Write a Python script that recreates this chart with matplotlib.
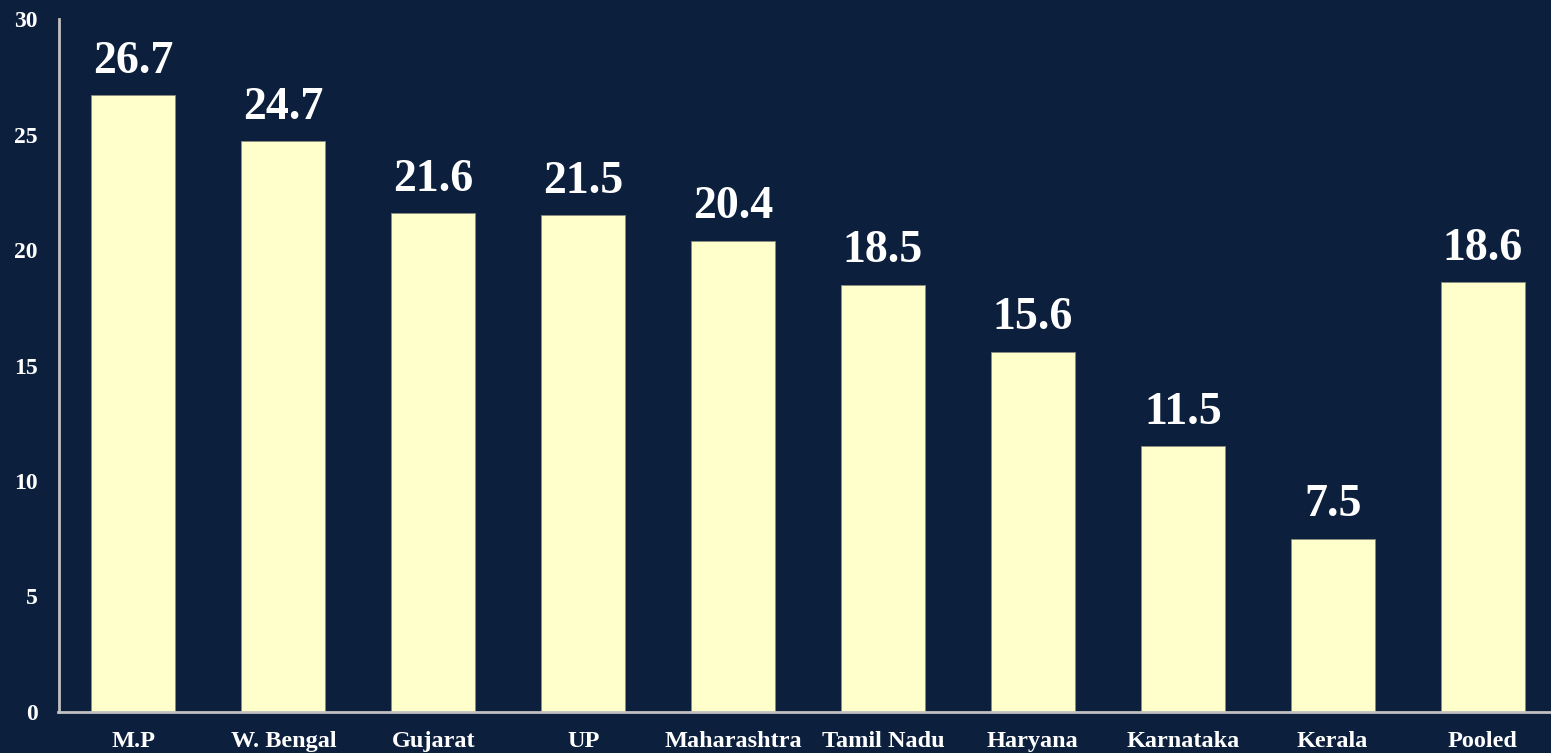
import matplotlib
matplotlib.use("Agg")
import matplotlib.pyplot as plt

categories = ["M.P", "W. Bengal", "Gujarat", "UP", "Maharashtra", "Tamil Nadu",
              "Haryana", "Karnataka", "Kerala", "Pooled"]
values = [26.7, 24.7, 21.6, 21.5, 20.4, 18.5, 15.6, 11.5, 7.5, 18.6]
yticks = [0, 5, 10, 15, 20, 25, 30]

bg = "#0c1f3d"
bar_color = "#ffffcc"
axis_color = "#c0c0c0"

plt.rcParams['font.family'] = ['Liberation Serif', 'DejaVu Serif']
plt.rcParams['font.weight'] = 'bold'

fig = plt.figure(figsize=(15.51, 7.53), dpi=100, facecolor=bg)
ax = fig.add_axes([58.5/1551, 41/753, 1499/1551, (712-19)/753])
ax.set_facecolor(bg)

x = range(len(categories))
bars = ax.bar(x, values, width=0.56, color=bar_color, edgecolor='#8a8a80', linewidth=0.6)
ax.set_xlim(-0.5, len(categories) - 0.5)
ax.set_ylim(0, 30)
ax.set_yticks(yticks)
ax.set_yticklabels([str(t) for t in yticks])
ax.set_xticks(list(x))
ax.set_xticklabels(categories)

for b, v in zip(bars, values):
    ax.annotate(f"{v}", (b.get_x() + b.get_width()/2, v), xytext=(0, 9),
                textcoords='offset points', ha='center', va='bottom',
                color='white', fontsize=33, fontweight='bold')

for s in ['top', 'right']:
    ax.spines[s].set_visible(False)
for s in ['left', 'bottom']:
    ax.spines[s].set_color(axis_color)
    ax.spines[s].set_linewidth(2)

ax.tick_params(axis='y', length=0, pad=15, labelsize=17, labelcolor='white')
ax.tick_params(axis='x', length=0, pad=14, labelsize=17.5, labelcolor='white')
for lbl in ax.get_xticklabels() + ax.get_yticklabels():
    lbl.set_fontweight('bold')

fig.savefig("out.png", dpi=100, facecolor=bg)
